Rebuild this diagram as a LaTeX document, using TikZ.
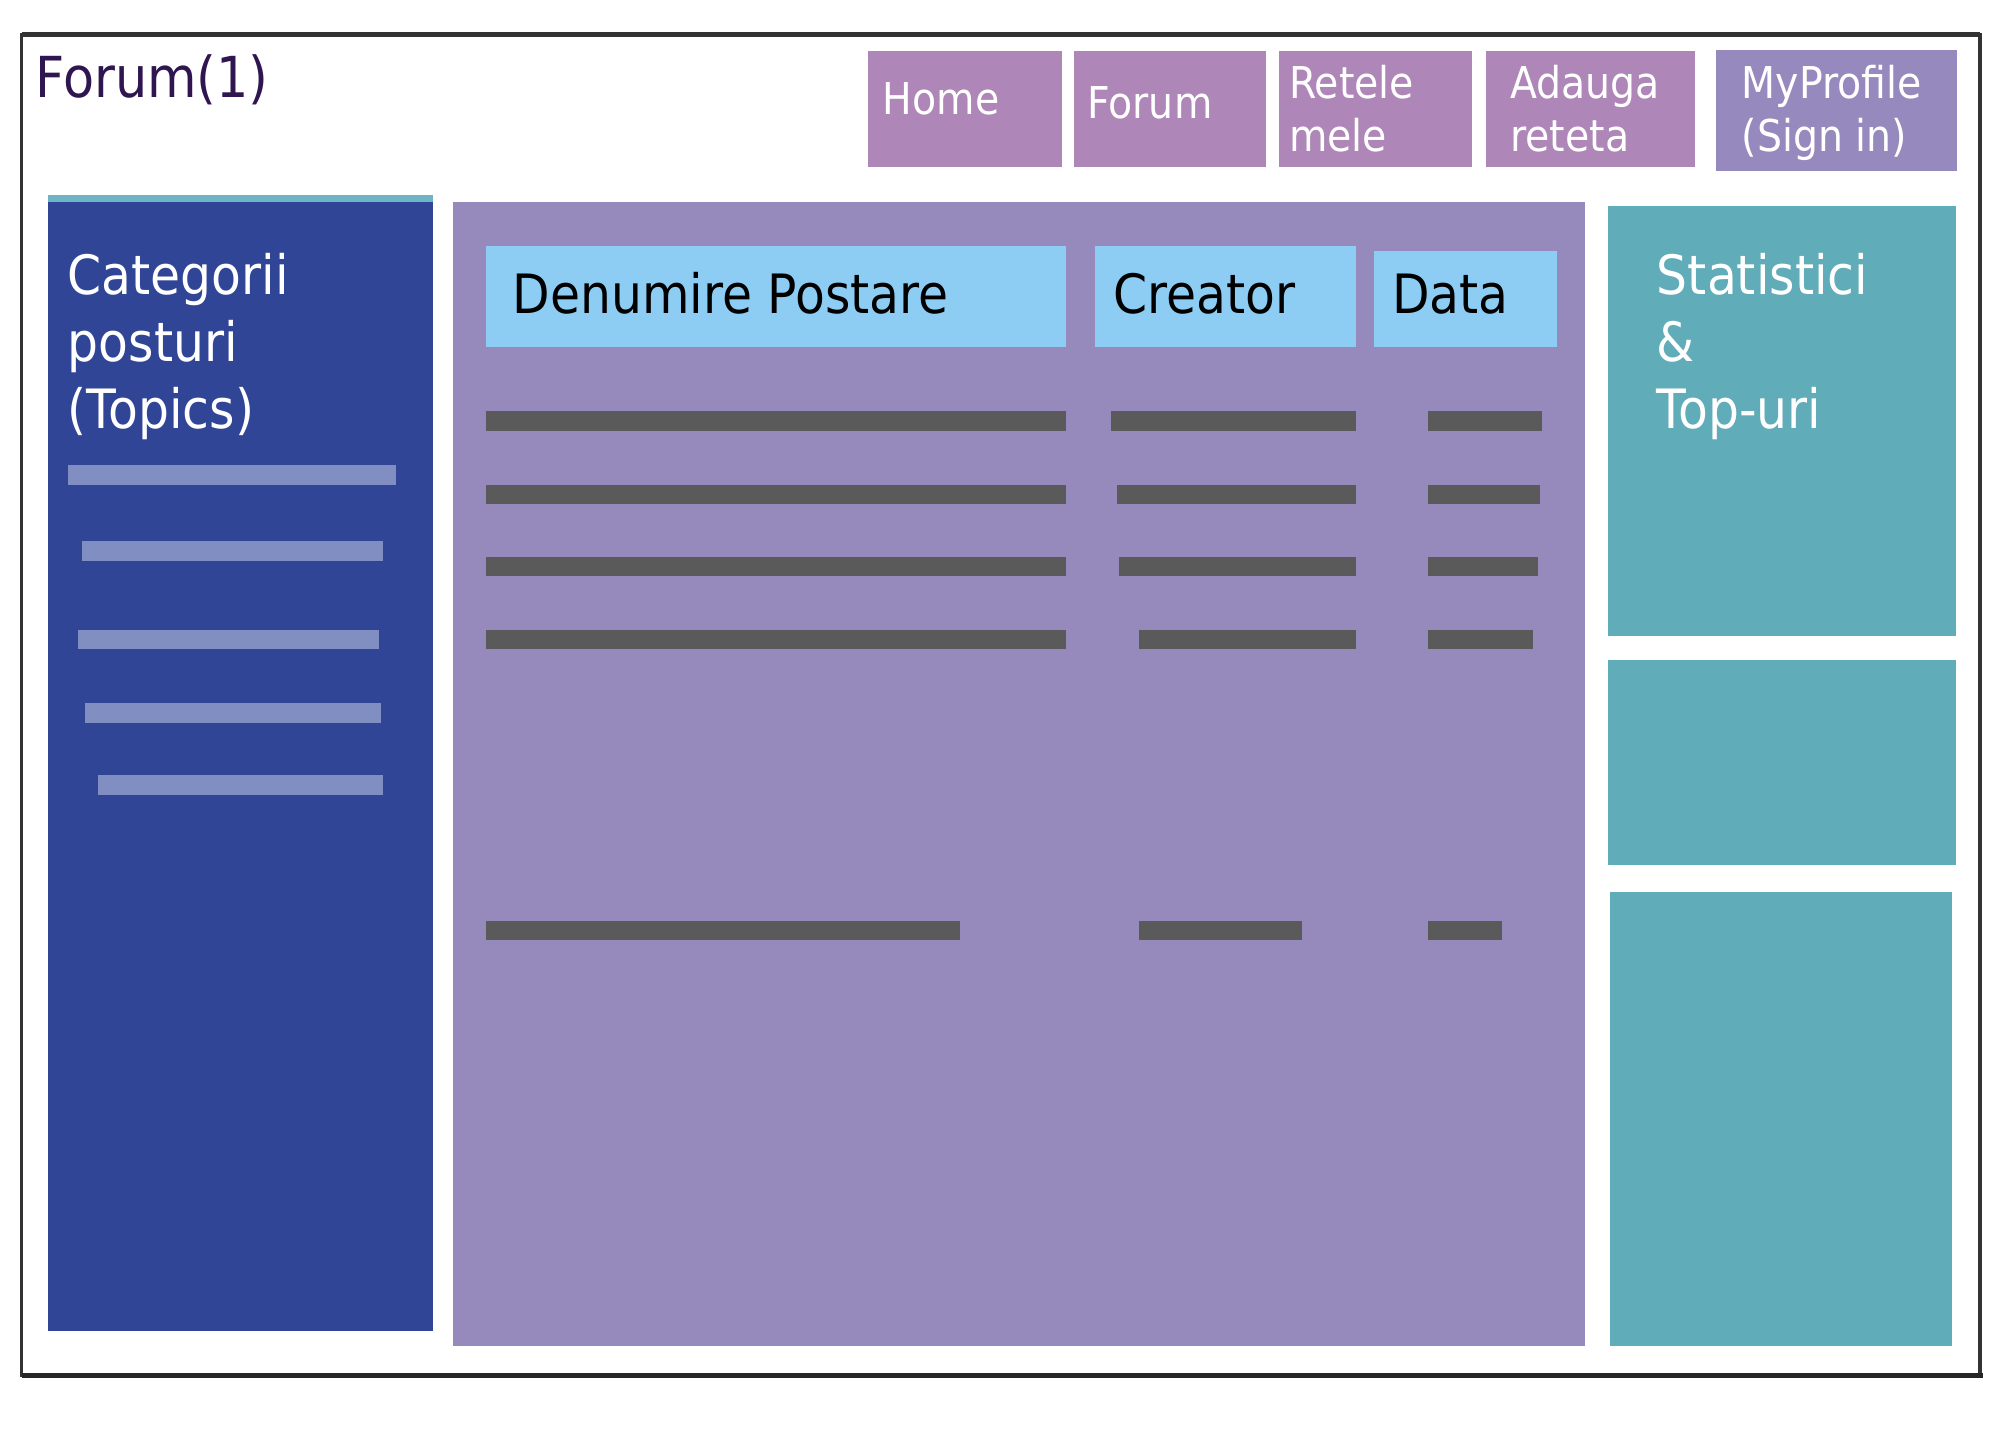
\documentclass[tikz,border=0pt]{standalone}
\usepackage{fontspec}
\setmainfont{DejaVu Sans}[FakeStretch=0.9]

\definecolor{navpink}{HTML}{AE86B8}
\definecolor{profilelilac}{HTML}{9589BD}
\definecolor{topicblue}{HTML}{314597}
\definecolor{topicedge}{HTML}{6FB4C4}
\definecolor{topicbar}{HTML}{808EC2}
\definecolor{postlilac}{HTML}{9689BB}
\definecolor{headblue}{HTML}{8ECDF3}
\definecolor{rowgray}{HTML}{5A5A5A}
\definecolor{statteal}{HTML}{60ACB8}
\definecolor{titleink}{HTML}{301650}

\tikzset{
    bigtext/.style={font=\fontsize{12}{14.8}\selectfont, align=left, anchor=base west, inner sep=0pt},
    navtext/.style={font=\fontsize{9.7}{11.7}\selectfont, text=white, align=left, anchor=base west, inner sep=0pt}
}

\begin{document}
\begin{tikzpicture}[x=0.1mm, y=-0.1mm]
    \useasboundingbox (0,0) rectangle (1568,1120);

    % Page frame
    \draw[line width=0.7pt, black!80] (17,27) rectangle (1540,1070);
    \draw[line width=1.1pt, black!80] (17,27) -- (1540,27);
    \draw[line width=1.1pt, black!85] (17,1070) -- (1542,1070);

    % Title
    \node[bigtext, font=\fontsize{12.5}{15}\selectfont, text=titleink] (title) at (27,76) {Forum(1)};

    % Navigation buttons (multi-line labels sit on the baseline of their last line)
    \fill[navpink] (675,40) rectangle (826,130);
    \node[navtext] (home) at (686,89) {Home};
    \fill[navpink] (835,40) rectangle (985,130);
    \node[navtext] (forum) at (845,92) {Forum};
    \fill[navpink] (995,40) rectangle (1145,130);
    \node[navtext] (retele) at (1002,118) {Retele\\mele};
    \fill[navpink] (1156,40) rectangle (1318,130);
    \node[navtext] (adauga) at (1174,118) {Adauga\\reteta};
    \fill[profilelilac] (1335,39) rectangle (1522,133);
    \node[navtext] (profile) at (1354,118) {MyProfile\\(Sign in)};

    % Categories panel
    \fill[topicedge] (37,152) rectangle (337,157);
    \fill[topicblue] (37,157) rectangle (337,1035);
    \node[bigtext, text=white] (topics) at (52,333) {Categorii\\posturi\\(Topics)};
    \foreach \xa/\xb/\y in {53/308/362, 64/298/421, 61/295/490, 66/296/547, 76/298/603}
        \fill[topicbar] (\xa,\y) rectangle (\xb,\y+15);

    % Posts panel with header cells
    \fill[postlilac] (352,157) rectangle (1233,1047);
    \fill[headblue] (378,191) rectangle (829,270);
    \fill[headblue] (852,191) rectangle (1055,270);
    \fill[headblue] (1069,195) rectangle (1211,270);
    \node[bigtext] (postname) at (398,244) {Denumire Postare};
    \node[bigtext] (creator) at (865,244) {Creator};
    \node[bigtext] (date) at (1082,244) {Data};
    \foreach \y/\xa/\xb/\xc/\xd in {320/829/864/1055/1199, 377/829/869/1055/1198,
            433/829/870/1055/1196, 490/829/886/1055/1192, 716/747/886/1013/1168} {
        \fill[rowgray] (378,\y) rectangle (\xa,\y+15);
        \fill[rowgray] (\xb,\y) rectangle (\xc,\y+15);
        \fill[rowgray] (1111,\y) rectangle (\xd,\y+15);
    }

    % Statistics panels
    \fill[statteal] (1251,160) rectangle (1521,495);
    \node[bigtext, text=white] (stats) at (1288,333) {Statistici\\\&\\Top-uri};
    \fill[statteal] (1251,513) rectangle (1521,673);
    \fill[statteal] (1252,694) rectangle (1518,1047);

\end{tikzpicture}
\end{document}
